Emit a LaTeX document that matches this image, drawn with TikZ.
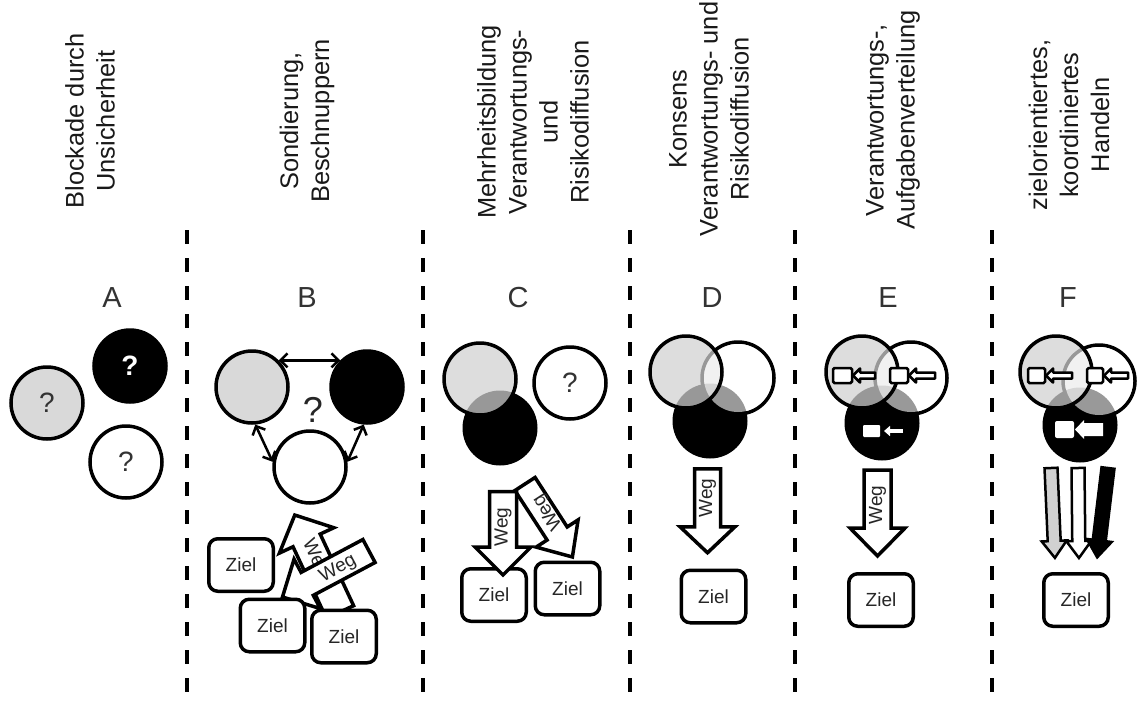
\documentclass[tikz,border=0pt]{standalone}
\usepackage{fontspec}
\setmainfont{Liberation Sans}
\usetikzlibrary{arrows.meta}
\definecolor{cg}{gray}{0.85}
\definecolor{lg}{gray}{0.82}
\tikzset{
 ring/.style={circle, draw=black, line width=3.5pt, minimum size=72pt, inner sep=0pt},
 blackdisc/.style={circle, fill=black, minimum size=75pt, inner sep=0pt},
 zielbox/.style={draw, line width=3.5pt, rounded corners=9pt, fill=white, minimum width=64.5pt, minimum height=52.5pt, inner sep=0pt, font=\fontsize{19}{19}\selectfont, text=black!85},
 heading/.style={font=\fontsize{25.4}{31}\selectfont, rotate=90, align=center, text=black!90},
 letter/.style={font=\fontsize{29}{29}\selectfont, text=black!80},
 sepline/.style={line width=4.5pt, dash pattern=on 14pt off 14pt},
 blk/.style={draw, line width=3.5pt, fill=white},
 thinblk/.style={draw, line width=2.5pt},
 wegtext/.style={font=\fontsize{19}{19}\selectfont, inner sep=0pt, text=black!85},
 qm/.style={font=\fontsize{28}{28}\selectfont, text=black!80},
 icon/.style={draw, line width=2.5pt, fill=white, rounded corners=1.5pt},
 dbl/.style={line width=2.5pt, {Straight Barb[length=7pt,width=14pt]}-{Straight Barb[length=7pt,width=14pt]}},
}
% #1 tail, #2 angle, #3 length, #4 shaft half width, #5 head half width, #6 head length, #7 style
\newcommand\blockarrow[7]{%
  \begin{scope}[shift={#1},rotate=#2]
    \path[#7] (0,#4) -- ({#3-#6},#4) -- ({#3-#6},#5) -- (#3,0) -- ({#3-#6},-#5) -- ({#3-#6},-#4) -- (0,-#4) -- cycle;
  \end{scope}}
% rect + hollow left arrow icon: #1 x left, #2 y centre, #3 rect width, #4 arrow length
\newcommand\keyicon[4]{%
  \path[icon] (#1,{#2-7.5}) rectangle ({#1+#3},{#2+7.5});
  \path[icon, rounded corners=0pt, line join=round] ({#1+#3+1},#2) -- ({#1+#3+8},{#2-7}) -- ({#1+#3+8},{#2-3}) -- ({#1+#3+1+#4},{#2-3}) -- ({#1+#3+1+#4},{#2+3}) -- ({#1+#3+8},{#2+3}) -- ({#1+#3+8},{#2+7}) -- cycle;}
\begin{document}
\begin{tikzpicture}[x=1pt,y=-1pt]
\useasboundingbox (0,0) rectangle (1140,704);
\fill[white] (0,0) rectangle (1140,704);

% ---------- headings ----------
\node[heading] (hA) at (90,121) {Blockade durch\\Unsicherheit};
\node[heading] (hB) at (307,121) {Sondierung,\\Beschnuppern};
\node[heading] (hC) at (533,122) {Mehrheitsbildung\\Verantwortungs-\\und\\Risikodiffusion};
\node[heading] (hD) at (709,119) {Konsens\\Verantwortungs- und\\Risikodiffusion};
\node[heading] (hE) at (893,120) {Verantwortungs-,\\Aufgabenverteilung};
\node[heading] (hF) at (1069,125) {zielorientiertes,\\koordiniertes\\Handeln};

% ---------- separators ----------
\foreach \x in {187,423,630,795,992}
  \draw[sepline] (\x,230) -- (\x,704);

% ---------- letters ----------
\node[letter] (lA) at (112,298) {A};
\node[letter] (lB) at (307,298) {B};
\node[letter] (lC) at (518,298) {C};
\node[letter] (lD) at (712,298) {D};
\node[letter] (lE) at (888,298) {E};
\node[letter] (lF) at (1068,298) {F};

% ---------- A ----------
\node[ring, fill=cg, qm] (a1) at (47,403) {?};
\node[ring, fill=black, font=\fontsize{28}{28}\bfseries, text=white] (a2) at (130,366) {?};
\node[ring, fill=white, qm] (a3) at (126,462) {?};

% ---------- B ----------
\node[ring, fill=cg] (b1) at (252,387) {};
\node[ring, fill=black] (b2) at (367,387) {};
\node[ring, fill=white] (b3) at (310,467) {};
\node[font=\fontsize{36}{36}\selectfont, text=black!85] (bq) at (313,410) {?};
\draw[dbl] (b1.45) -- (b2.135);
\draw[dbl] (b1.-85) -- (b3.172);
\draw[dbl] (b2.-95) -- (b3.8);
\blockarrow{(340,612)}{115}{107}{15}{30}{28}{blk}
\node[wegtext, rotate=-65] (bw1) at (315,558) {Weg};
\blockarrow{(369,551)}{208}{98}{13}{28}{28}{blk}
\node[wegtext, rotate=28] (bw2) at (338,569) {Weg};
\node[zielbox] (bz1) at (241,565) {Ziel};
\node[zielbox] (bz2) at (272.5,625.5) {Ziel};
\node[zielbox] (bz3) at (344,636.5) {Ziel};

% ---------- C ----------
\node[blackdisc] (c2) at (500,428) {};
\fill[lg, fill opacity=.73] (480,379) circle[radius=37];
\node[ring] (c1) at (480,379) {};
\node[ring, fill=white, qm] (c3) at (570,383) {?};
\node[zielbox] (cz1) at (494,595) {Ziel};
\node[zielbox] (cz2) at (567.5,588.5) {Ziel};
\blockarrow{(525,484)}{-57}{87}{12}{25}{28}{blk}
\node[wegtext, rotate=123] (cw2) at (548,512) {Weg};
\blockarrow{(503,491.5)}{-90}{83.5}{13.5}{28}{28}{blk}
\node[wegtext, rotate=90] (cw1) at (503,527) {Weg};

% ---------- D ----------
\node[blackdisc] (d3) at (710,421) {};
\node[ring] (d2) at (738,378) {};
\fill[lg, fill opacity=.73] (686,372) circle[radius=37];
\fill[white, fill opacity=.6] (d2.center) circle[radius=34];
\node[ring] (d1) at (686,372) {};
\blockarrow{(707.5,468.75)}{-90}{84}{13}{27.5}{26}{blk}
\node[wegtext, rotate=90] (dw) at (707.5,498) {Weg};
\node[zielbox] (dz) at (713.5,596.5) {Ziel};

% ---------- E ----------
\node[blackdisc] (e3) at (882,423) {};
\node[ring] (e2) at (911,378) {};
\fill[lg, fill opacity=.73] (862,372) circle[radius=37];
\fill[white, fill opacity=.6] (e2.center) circle[radius=34];
\node[ring] (e1) at (862,372) {};
\keyicon{833}{375.5}{19}{22}
\keyicon{890}{375.5}{18}{26}
\fill[white, rounded corners=1pt] (863,425) rectangle (880,437);
\draw[white, line width=3.5pt, -{Triangle[length=6pt,width=10pt]}] (903,431) -- (884,431);
\blockarrow{(877.5,470)}{-90}{86}{13.5}{27.5}{28}{blk}
\node[wegtext, rotate=90] (ew) at (877.5,505) {Weg};
\node[zielbox] (ez) at (881,600) {Ziel};

% ---------- F ----------
\node[blackdisc] (f3) at (1080,425) {};
\node[ring] (f2) at (1099,381) {};
\fill[lg, fill opacity=.73] (1056,372) circle[radius=37];
\fill[white, fill opacity=.6] (f2.center) circle[radius=34];
\node[ring] (f1) at (1056,372) {};
\keyicon{1028}{375.5}{17}{26}
\keyicon{1087}{375.5}{16}{24}
\fill[white, rounded corners=2pt] (1055,421) rectangle (1074,438);
\fill[white] (1075,429.5) -- (1084,420) -- (1084,423) -- (1103,423) -- (1103,436) -- (1084,436) -- (1084,439) -- cycle;
\blockarrow{(1051,468)}{-87.5}{90}{6.5}{12.5}{17}{thinblk, fill=lg}
\blockarrow{(1078,468)}{-89.4}{90}{6.5}{12.5}{17}{thinblk, fill=white}
\blockarrow{(1108,468)}{-96.9}{90}{6.5}{12.5}{17}{thinblk, fill=black}
\node[zielbox] (fz) at (1076,600) {Ziel};
\end{tikzpicture}
\end{document}
